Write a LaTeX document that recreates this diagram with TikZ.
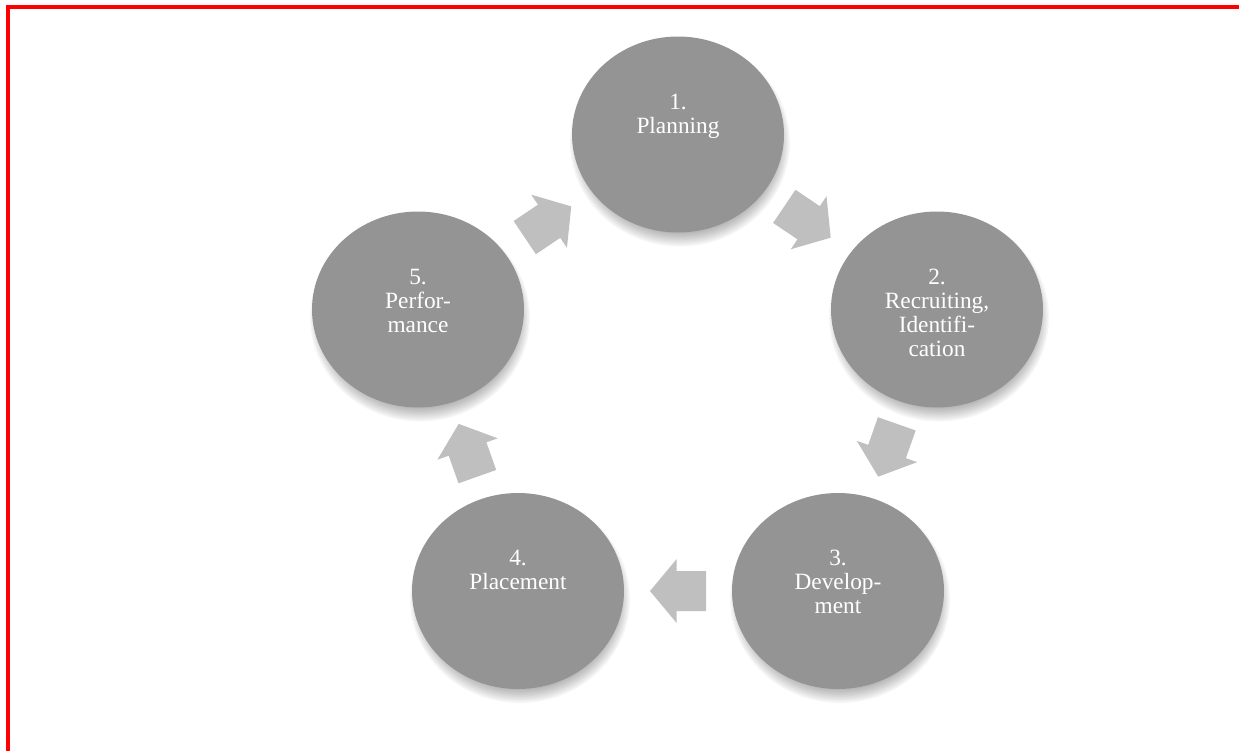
\documentclass[tikz,border=0pt]{standalone}
\usepackage{fontspec}
\setmainfont{Liberation Serif}
\usetikzlibrary{shapes.geometric,calc}
\definecolor{stagegray}{RGB}{148,148,148}
\definecolor{arrowgray}{RGB}{191,191,191}
\tikzset{
  stage/.style={ellipse, fill=stagegray, minimum width=159pt, minimum height=147pt, inner sep=0pt},
  stagetext/.style={anchor=north, align=center, inner sep=0pt, text=white, font=\fontsize{17.5}{18}\selectfont},
  cyclearrow/.style={fill=arrowgray},
  halo/.style={black, opacity=0.035}
}
\begin{document}
\begin{tikzpicture}[x=0.75pt,y=-0.75pt]
\useasboundingbox (0,0) rectangle (1239,751);
\draw[red, line width=3pt] (8,751) -- (8,7) -- (1239,7);
\coordinate (c1) at (678,134.5);
\coordinate (c2) at (937,309.5);
\coordinate (c3) at (838,591);
\coordinate (c4) at (518,591);
\coordinate (c5) at (418,309.5);
% soft shadows under the stages
\foreach \s in {c1,c2,c3,c4,c5}
  \foreach \k in {0,...,10}
    \fill[halo] ($(\s)+(2,8)$) ellipse ({72pt+1.05pt*\k} and {66pt+1.2pt*\k});
\node[stage] (p1) at (c1) {};
\node[stage] (p2) at (c2) {};
\node[stage] (p3) at (c3) {};
\node[stage] (p4) at (c4) {};
\node[stage] (p5) at (c5) {};
\node[stagetext] (t1) at ($(c1)+(0,-41)$) {1.\\Planning};
\node[stagetext] (t2) at ($(c2)+(0,-41)$) {2.\\Recruiting,\\Identifi-\\cation};
\node[stagetext] (t3) at ($(c3)+(0,-41)$) {3.\\Develop-\\ment};
\node[stagetext] (t4) at ($(c4)+(0,-41)$) {4.\\Placement};
\node[stagetext] (t5) at ($(c5)+(0,-41)$) {5.\\Perfor-\\mance};
\foreach \a/\b/\ang in {p1/p2/-34, p2/p3/-109.4, p3/p4/180, p4/p5/109.5, p5/p1/33.9}
  \fill[cyclearrow, shift={($(\a)!0.5!(\b)$)}, rotate=\ang] (-21pt,-15pt) -- (1pt,-15pt) -- (1pt,-24pt) -- (21pt,0pt) -- (1pt,24pt) -- (1pt,15pt) -- (-21pt,15pt) -- cycle;
\end{tikzpicture}
\end{document}
